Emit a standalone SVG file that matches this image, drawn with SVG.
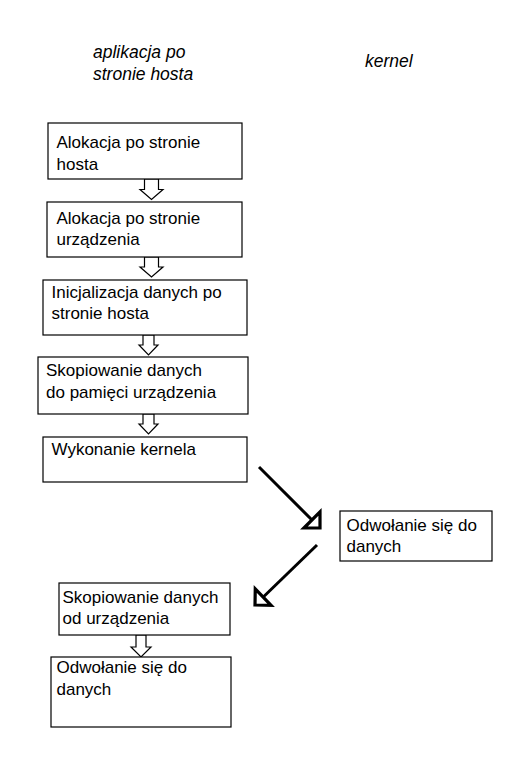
<svg xmlns="http://www.w3.org/2000/svg" width="530" height="780" viewBox="0 0 530 780">
<style>
.box{fill:#fff;stroke:#000;stroke-width:1.2}
.t{font-family:"Liberation Sans",Arial,sans-serif;font-size:17px;fill:#000}
.h{font-family:"Liberation Sans",Arial,sans-serif;font-size:17.5px;font-style:italic;fill:#000}
.blk{fill:#fff;stroke:#000;stroke-width:1.2;stroke-linejoin:miter}
.diag{fill:none;stroke:#000;stroke-width:3}
</style>
<defs>
<marker id="open" markerUnits="userSpaceOnUse" markerWidth="30" markerHeight="30" refX="0" refY="0" viewBox="-14 -14 16 28" orient="auto" overflow="visible">
<path d="M0,0 L-10.6,10.6 L-10.6,-10.6 Z" fill="#fff" stroke="#000" stroke-width="3" stroke-linejoin="miter"/>
</marker>
</defs>
<rect width="530" height="780" fill="#fff"/>
<g id="headers">
<text class="h" x="93" y="58">aplikacja po</text>
<text class="h" x="93" y="80">stronie hosta</text>
<text class="h" x="365" y="67">kernel</text>
</g>
<g id="connectors">
<polygon class="blk" points="144.5,179 158.5,179 158.5,189.5 163,189.5 151.5,199.5 140,189.5 144.5,189.5"/>
<polygon class="blk" points="144.5,257 158.5,257 158.5,267 163,267 151.5,277 140,267 144.5,267"/>
<polygon class="blk" points="143,335 154,335 154,345 158,345 148.5,355 139,345 143,345"/>
<polygon class="blk" points="143,414 154,414 154,424 158,424 148.5,434 139,424 143,424"/>
<polygon class="blk" points="136,635 146,635 146,647 151,647 141,657 131,647 136,647"/>
<path class="diag" d="M259,467 L320,528" marker-end="url(#open)"/>
<path class="diag" d="M317,545 L255,605" marker-end="url(#open)"/>
</g>
<g id="n1"><rect class="box" x="48" y="123" width="194" height="56"/>
<text class="t" x="56.5" y="148">Alokacja po stronie</text><text class="t" x="56.5" y="170">hosta</text></g>
<g id="n2"><rect class="box" x="47" y="202" width="195" height="55"/>
<text class="t" x="56.5" y="224">Alokacja po stronie</text><text class="t" x="56.5" y="245">urządzenia</text></g>
<g id="n3"><rect class="box" x="43" y="280" width="204" height="55"/>
<text class="t" x="51.5" y="298">Inicjalizacja danych po</text><text class="t" x="51.5" y="319">stronie hosta</text></g>
<g id="n4"><rect class="box" x="38" y="357" width="210" height="57"/>
<text class="t" x="46" y="376">Skopiowanie danych</text><text class="t" x="46" y="398">do pamięci urządzenia</text></g>
<g id="n5"><rect class="box" x="43" y="437" width="204" height="45"/>
<text class="t" x="51.5" y="455">Wykonanie kernela</text></g>
<g id="n6"><rect class="box" x="340" y="511" width="152" height="50"/>
<text class="t" x="346.5" y="531">Odwołanie się do</text><text class="t" x="346.5" y="552">danych</text></g>
<g id="n7"><rect class="box" x="59" y="583" width="171" height="52"/>
<text class="t" x="62.5" y="603">Skopiowanie danych</text><text class="t" x="62.5" y="624">od urządzenia</text></g>
<g id="n8"><rect class="box" x="51" y="657" width="180" height="70"/>
<text class="t" x="56.5" y="673">Odwołanie się do</text><text class="t" x="56.5" y="695">danych</text></g>
</svg>
